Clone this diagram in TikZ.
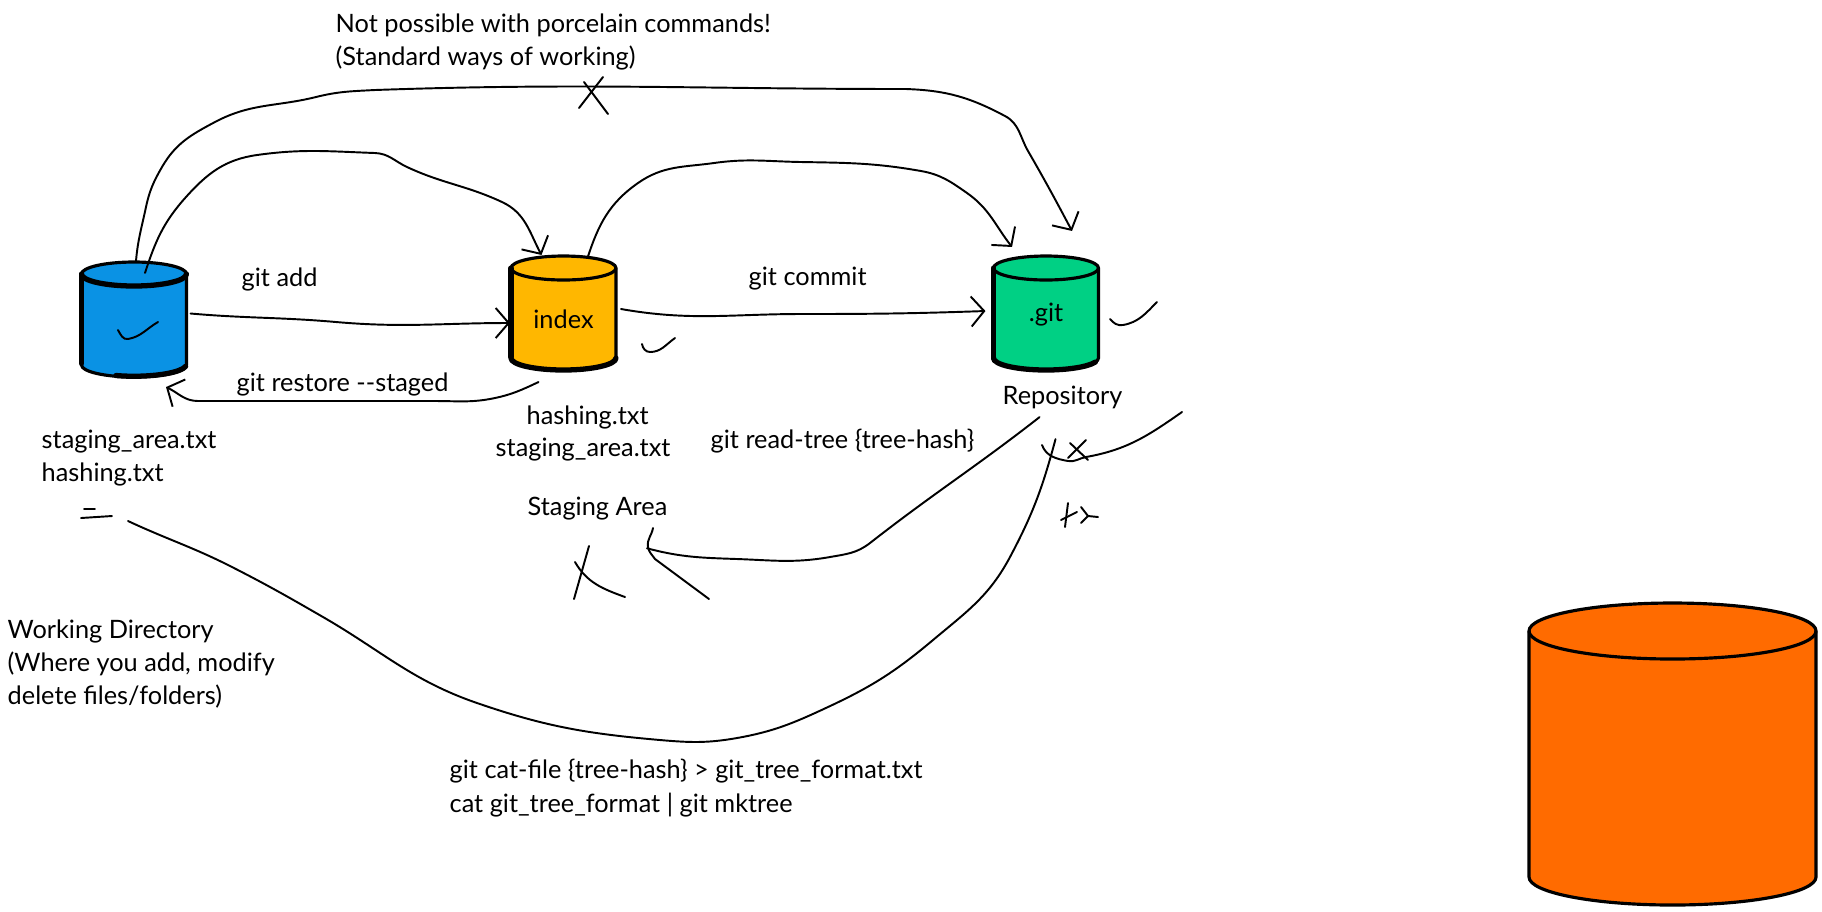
\documentclass[tikz,border=0pt]{standalone}
\usepackage{fontspec}
\setmainfont{Lato}
\usetikzlibrary{arrows.meta}
\definecolor{wdirblue}{HTML}{0A92E4}
\definecolor{stageamber}{HTML}{FFB700}
\definecolor{repogreen}{HTML}{00D084}
\definecolor{bigorange}{HTML}{FF6B00}
% name, colour, centre x, centre y, half width, half height, end radius, text
\newcommand{\drum}[8]{
	\begin{scope}[shift={(#3,#4)}]
		\draw[drumline,fill=#2] ({-#5},{#6-#7}) -- ({-#5},{#7-#6}) arc[start angle=180,end angle=360,x radius=#5,y radius=#7] -- ({#5},{#6-#7}) arc[start angle=0,end angle=180,x radius=#5,y radius=#7] -- cycle;
		\draw[drumline] ({-#5},{#6-#7}) arc[start angle=180,end angle=360,x radius=#5,y radius=#7];
		\node[inner sep=0,outer sep=0,minimum width={#5*.02cm},minimum height={#6*.02cm},font=\fontsize{7.2}{9.5}\selectfont] (#1) at (0,0) {#8};
	\end{scope}
}

\begin{document}
\begin{tikzpicture}[x=.01cm,y=.01cm,
	drumline/.style={line width=.9pt,line join=round},
	heavy/.style={line width=1.5pt,line cap=round},
	ink/.style={line width=.55pt,line cap=round},
	link/.style={ink,-{Straight Barb[length=1.3mm,width=3mm]}},
	note/.style={anchor=west,inner sep=0,align=left,yshift=-.02cm,font=\fontsize{7.2}{9.5}\selectfont}]
	\useasboundingbox (0,0) rectangle (1822,-911);
	% the cylinders
	\drum{wdir}{wdirblue}{134}{-319.5}{52.5}{57.5}{12}{}
	\drum{stage}{stageamber}{563.5}{-313}{52.5}{57}{12}{\raisebox{-4.5pt}[0pt][0pt]{index}}
	\drum{repo}{repogreen}{1046}{-313}{52.5}{57}{12}{\raisebox{-2.3pt}[0pt][0pt]{.git}}
	\drum{store}{bigorange}{1672.5}{-754}{143.5}{151}{28}{}
	\draw[heavy] ([shift={(0,45)}]wdir.west) -- ([shift={(0,-44)}]wdir.west);
	\draw[heavy] ([shift={(0,45)}]stage.west) -- ([shift={(0,-44)}]stage.west);
	\draw[heavy] ([shift={(0,45)}]repo.west) -- ([shift={(0,-44)}]repo.west);
	\draw[heavy] ([shift={(0,-45)}]stage.west) arc[start angle=180,end angle=360,x radius=52.5,y radius=12];
	\draw[heavy] ([shift={(0,-45)}]repo.west) arc[start angle=180,end angle=340,x radius=52.5,y radius=12];
	\draw[heavy] ([shift={(34.5,-56)}]wdir.west) arc[start angle=250,end angle=350,x radius=52.5,y radius=12];
	\draw[heavy] ([shift={(0,45.5)}]wdir.west) arc[start angle=180,end angle=360,x radius=52.5,y radius=12];
	% labels
	\node[note] (nogo) at (335,-40) {Not possible with porcelain commands!\\(Standard ways of working)};
	\node[note] (lbladd) at (241,-277) {git add};
	\node[note] (lblrestore) at (236,-382) {git restore -{}-staged};
	\node[note] (lblcommit) at (748,-277) {git commit};
	\node[note] (lblhash) at (526,-415) {hashing.txt};
	\node[note] (lblarea) at (495,-448) {staging\_area.txt};
	\node[note] (lblstage) at (527,-507) {Staging Area};
	\node[note] (lblread) at (710,-439) {git read-tree \{tree-hash\}};
	\node[note] (lblrepo) at (1002,-395) {Repository};
	\node[note] (lblfiles) at (41,-456) {staging\_area.txt\\hashing.txt};
	\node[note] (lblwdir) at (7,-662) {Working Directory\\(Where you add, modify\\delete files/folders)};
	\node[note] (lblcat) at (449,-786) {git cat-file \{tree-hash\} > git\_tree\_format.txt\\cat git\_tree\_format | git mktree};
	% arrows between the cylinders
	\draw[link] ([shift={(2,1)}]wdir.north) [out=85,in=258] to (146,-207) [out=78,in=240] to (162,-167) [out=60,in=208] to (215,-122) [out=28,in=194] to (316,-97) [out=14,in=183] to (375,-90) [out=2,in=180] to (906,-89) [out=-2,in=152] to (1005,-116) [out=-28,in=120] to (1028,-151) [out=-60,in=118] to ([shift={(26,25)}]repo.north);
	\draw[link] ([shift={(11,-11)}]wdir.north) [out=72,in=228] to (186,-197) [out=48,in=188] to (257,-155) [out=8,in=178] to (375,-153) [out=-2,in=155] to (407,-167) [out=-25,in=155] to (502,-202) [out=-25,in=118] to ([shift={(-22,1)}]stage.north);
	\draw[link] ([shift={(24,-2)}]stage.north) [out=72,in=215] to (638,-183) [out=35,in=188] to (714,-163) [out=8,in=179] to (801,-162) [out=-1,in=170] to (921,-171) [out=-10,in=145] to (967,-193) [out=-35,in=128] to ([shift={(-34,9)}]repo.north);
	\draw[link] ([shift={(4,6)}]wdir.east) [out=-5,in=175] to (336,-322) [out=-5,in=180] to ([shift={(-1,-10)}]stage.west);
	\draw[link] ([shift={(-25,-12)}]stage.south) [out=205,in=12] to (495,-398) [out=192,in=0] to (435,-401) [out=180,in=0] to (198,-401) [out=180,in=-25] to ([shift={(32,-10)}]wdir.south);
	\draw[link] ([shift={(5,4)}]stage.east) [out=-10,in=180] to (801,-314) [out=0,in=182] to ([shift={(-8,2)}]repo.west);
	\draw[ink] ([shift={(-23,-8)}]lblrepo.south) [out=218,in=38] to (870,-543) [out=218,in=10] to (830,-557) [out=190,in=-2] to (737,-559) [out=178,in=-15] to ([shift={(-21,-27)}]lblstage.south east);
	\draw[ink] (653,-528) [out=260,in=100] to (648,-547) [out=-80,in=125] to (655,-559) -- (709,-599);
	\coordinate (catstart) at (128,-521);
	\draw[ink] (catstart) [out=-25,in=153] to (232,-567) [out=-27,in=150] to (323,-617) [out=-30,in=161] to (477,-703) [out=-19,in=175] to (660,-740) [out=-5,in=190] to (737,-738) [out=10,in=205] to (828,-707) [out=25,in=220] to (933,-640) [out=40,in=242] to (1010,-557) [out=62,in=255] to ([shift={(-7,-30)}]lblrepo.south);
	% the scribbles
	\draw[ink] (603,-77) -- (579,-108);
	\draw[ink] (584,-82) -- (608,-114);
	\draw[ink] (118,-330) [out=-60,in=190] to (128,-339) [out=10,in=210] to (158,-322);
	\draw[ink] (642,-344) [out=-80,in=180] to (650,-352) [out=0,in=215] to (675,-338);
	\draw[ink] (1110,-319) [out=-50,in=190] to (1123,-325) [out=10,in=225] to (1157,-302);
	\draw[ink] (81,-518) -- (112,-516);
	\draw[ink] (84,-509) -- (95,-509);
	\draw[ink] (589,-546) -- (574,-599);
	\draw[ink] (575,-562) [out=-60,in=160] to (625,-597);
	\draw[ink] (1182,-412) [out=215,in=10] to (1086,-457) [out=190,in=-10] to (1068,-461) [out=170,in=-70] to (1042,-445);
	\draw[ink] (1086,-440) -- (1068,-458);
	\draw[ink] (1070,-443) -- (1088,-460);
	\draw[ink] (1068,-503) -- (1065,-527);
	\draw[ink] (1061,-520) -- (1077,-512);
	\draw[ink] (1081,-507) -- (1088,-516) -- (1098,-517);
	\draw[ink] (1088,-516) -- (1081,-523);
\end{tikzpicture}
\end{document}
